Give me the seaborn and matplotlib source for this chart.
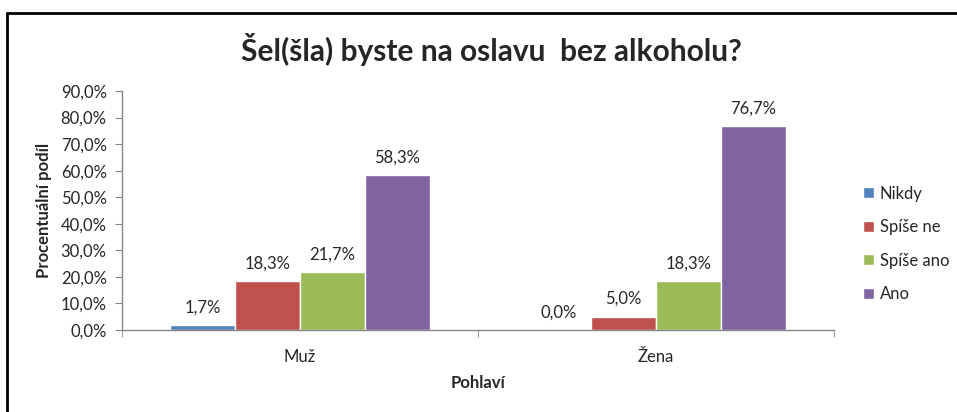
import matplotlib
matplotlib.use("Agg")
import matplotlib.pyplot as plt
from matplotlib.ticker import FuncFormatter, FixedLocator
import pandas as pd
import seaborn as sns

# data
pohlavi = ["Muž", "Žena"]
odpovedi = ["Nikdy", "Spíše ne", "Spíše ano", "Ano"]
muz = [1.7, 18.3, 21.7, 58.3]
zena = [0.0, 5.0, 18.3, 76.7]
barvy = ["#4F81BD", "#C0504D", "#9BBB59", "#8064A2"]

df = pd.DataFrame({
    "Pohlaví": [pohlavi[0]] * 4 + [pohlavi[1]] * 4,
    "Odpověď": odpovedi * 2,
    "Podíl": muz + zena,
})

sns.set_style("white")
plt.rcParams["font.family"] = ["Lato", "DejaVu Sans"]

fig = plt.figure(figsize=(9.57, 4.12), dpi=100)
ax = fig.add_axes([0.1275, 0.199, 0.7435, 0.58])

sns.barplot(data=df, x="Pohlaví", y="Podíl", hue="Odpověď", hue_order=odpovedi,
            palette=barvy, width=0.73, saturation=1, ax=ax, legend=True)

# data labels
for cont in ax.containers:
    labs = [f"{b.get_height():.1f}%".replace(".", ",") for b in cont]
    ax.bar_label(cont, labels=labs, padding=7, fontsize=12, color="#262626")

ax.set_ylim(0, 90)
ax.set_xlim(-0.5, 1.5)
ax.yaxis.set_major_locator(FixedLocator(range(0, 91, 10)))
ax.yaxis.set_major_formatter(FuncFormatter(lambda v, p: f"{v:.1f}%".replace(".", ",")))
ax.tick_params(axis="y", labelsize=12, length=5, color="#868686", direction="out",
               left=True, labelcolor="#262626", pad=6)
ax.tick_params(axis="x", which="major", length=0, labelsize=12, labelcolor="#262626", pad=14)
ax.set_xticks([-0.5, 0.5, 1.5], minor=True)
ax.tick_params(axis="x", which="minor", length=5, color="#868686", bottom=True)

for s in ["top", "right"]:
    ax.spines[s].set_visible(False)
for s in ["left", "bottom"]:
    ax.spines[s].set_color("#868686")
    ax.spines[s].set_linewidth(1)

ax.set_ylabel("Procentuální podíl", fontsize=12, fontweight="bold", labelpad=6)
ax.set_xlabel("Pohlaví", fontsize=12, fontweight="bold", labelpad=7)

handles, labels = ax.get_legend_handles_labels()
ax.get_legend().remove()
fig.legend(handles, labels, loc="center left", bbox_to_anchor=(0.886, 0.408),
           frameon=False, fontsize=12, handlelength=0.65, handleheight=0.65,
           handletextpad=0.35, labelspacing=1.05)

fig.text(0.513, 0.88, "Šel(šla) byste na oslavu  bez alkoholu?", ha="center",
         va="center", fontsize=21.5, fontweight="bold")

# chart frame (only top and left visible in the crop)
fig.add_artist(plt.Line2D([0.007, 1.0], [0.968, 0.968], color="black", lw=2,
                          transform=fig.transFigure))
fig.add_artist(plt.Line2D([0.007, 0.007], [0.0, 0.968], color="black", lw=2,
                          transform=fig.transFigure))

fig.savefig("out.png", dpi=100)
